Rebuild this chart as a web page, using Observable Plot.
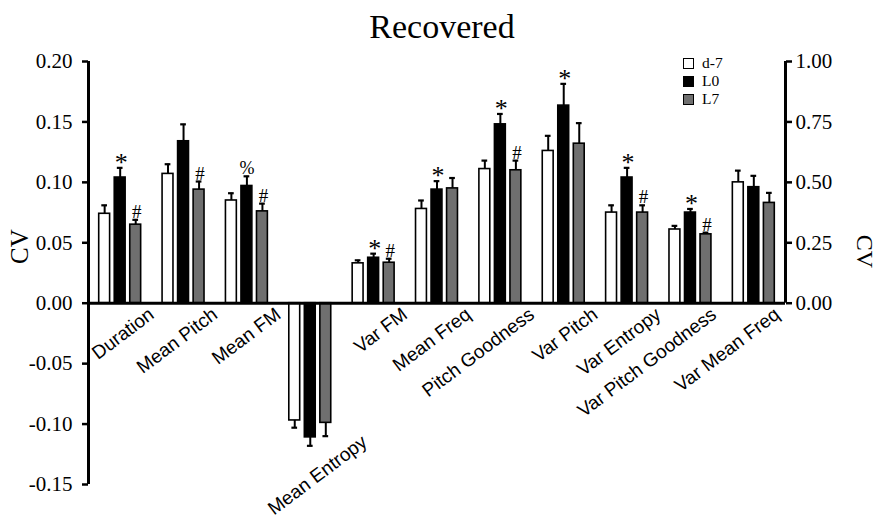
<!DOCTYPE html>
<html><head><meta charset="utf-8">
<script src="https://cdn.jsdelivr.net/npm/d3@7"></script>
<script src="https://cdn.jsdelivr.net/npm/@observablehq/plot@0.6"></script>
<style>
body{margin:0;background:#fff}
#wrap{position:relative;width:880px;height:530px}
#legend{position:absolute;left:683px;top:54px;font-family:"Liberation Serif","Times New Roman",serif;font-size:15.5px;color:#000}
#legend .row{display:flex;align-items:center;height:18px;line-height:18px}
#legend .sw{width:9px;height:9px;border:1.5px solid #000;margin-right:8px;box-sizing:content-box}
</style></head>
<body><div id="wrap"><div id="legend"></div></div>
<script>
const categories = ["Duration","Mean Pitch","Mean FM","Mean Entropy","Var FM","Mean Freq","Pitch Goodness","Var Pitch","Var Entropy","Var Pitch Goodness","Var Mean Freq"];
const series = ["d-7","L0","L7"];
const seriesColors = ["#ffffff","#000000","#6f6f6f"];
const d7    = [0.074, 0.107, 0.085, -0.097, 0.033, 0.078, 0.111, 0.126, 0.075, 0.061, 0.100];
const d7Err = [0.007, 0.008, 0.006, 0.006, 0.0025, 0.007, 0.007, 0.0125, 0.006, 0.003, 0.0097];
const L0    = [0.104, 0.134, 0.097, -0.111, 0.0376, 0.094, 0.148, 0.1635, 0.104, 0.075, 0.096];
const L0Err = [0.008, 0.014, 0.008, 0.007, 0.0034, 0.007, 0.0086, 0.018, 0.008, 0.003, 0.0094];
const L7    = [0.065, 0.094, 0.076, -0.099, 0.0335, 0.095, 0.110, 0.132, 0.075, 0.057, 0.083];
const L7Err = [0.004, 0.0067, 0.0064, 0.011, 0.0033, 0.0086, 0.008, 0.017, 0.006, 0.0014, 0.0083];
const L0Marks = ["*", "", "%", "", "*", "*", "*", "*", "*", "*", ""];
const L7Marks = ["#", "#", "#", "", "#", "", "#", "", "#", "#", ""];
const leftTicks = [-0.15, -0.10, -0.05, 0.00, 0.05, 0.10, 0.15, 0.20];
const leftTickLabels = ["-0.15","-0.10","-0.05","0.00","0.05","0.10","0.15","0.20"];
const rightTicks = [0, 0.25, 0.5, 0.75, 1.0];
const rightTickLabels = ["0.00","0.25","0.50","0.75","1.00"];
const titleText = "Recovered";
const yLabel = "CV";

const values = [d7, L0, L7];
const errors = [d7Err, L0Err, L7Err];
const marksBySeries = [null, L0Marks, L7Marks];
const step = 0.245, bw = 0.172, capHalf = 0.045;
const rows = [];
categories.forEach((c, i) => series.forEach((s, k) => {
  const v = values[k][i], e = errors[k][i];
  rows.push({cat: c, series: s, k, v, top: v + Math.sign(v) * e, cx: i + 0.5 + (k - 1) * step, mark: marksBySeries[k] ? marksBySeries[k][i] : ""});
}));
const yMin = leftTicks[0], yMax = leftTicks[leftTicks.length - 1];
const ratio = yMax / rightTicks[rightTicks.length - 1];

const labFont = 19;
const sans = '"Liberation Sans", Arial, sans-serif';
const labelMarks = categories.map((c, i) => {
  const low = Math.min(0, ...rows.filter(r => r.cat === c).map(r => r.top));
  const neg = low < 0;
  const shift = i >= categories.length - 2 ? -8 : 0;
  return Plot.text([c], {x: () => i + 0.5, y: () => low, text: d => d, rotate: -37, textAnchor: "end", lineAnchor: "top", dx: (neg ? 50 : 27) + shift, dy: neg ? -12 : 3, fontFamily: sans, fontSize: labFont});
});

const serif = '"Liberation Serif", "Times New Roman", serif';
const chart = Plot.plot({
  width: 880, height: 530,
  marginLeft: 88, marginRight: 95, marginTop: 61, marginBottom: 46,
  style: {fontFamily: serif, fontSize: "21px", background: "#fff", color: "#000"},
  x: {domain: [0, categories.length], axis: null},
  y: {domain: [yMin, yMax], axis: null},
  color: {domain: series, range: seriesColors},
  marks: [
    Plot.rect(rows, {x1: d => d.cx - bw / 2, x2: d => d.cx + bw / 2, y1: 0, y2: "v", fill: "series", stroke: "#000", strokeWidth: 1.6}),
    Plot.ruleX(rows, {x: "cx", y1: "v", y2: "top", stroke: "#000", strokeWidth: 2}),
    Plot.ruleY(rows, {y: "top", x1: d => d.cx - capHalf, x2: d => d.cx + capHalf, stroke: "#000", strokeWidth: 2.2}),
    Plot.text(rows.filter(r => r.mark === "*"), {x: "cx", y: "top", text: "mark", fontSize: 26, lineAnchor: "bottom", dy: 3, dx: 1, fill: "#000"}),
    Plot.text(rows.filter(r => r.mark === "#"), {x: "cx", y: "top", text: "mark", fontSize: 19, lineAnchor: "bottom", dy: -2, dx: 1, fill: "#000"}),
    Plot.text(rows.filter(r => r.mark === "%"), {x: "cx", y: "top", text: "mark", fontSize: 18, lineAnchor: "bottom", dy: -2, fill: "#000"}),
    Plot.ruleY([0], {x1: 0, x2: categories.length, stroke: "#000", strokeWidth: 3}),
    Plot.ruleX([0], {y1: yMin, y2: yMax, stroke: "#000", strokeWidth: 3}),
    Plot.ruleX([categories.length], {y1: 0, y2: yMax, stroke: "#000", strokeWidth: 3}),
    Plot.axisY(leftTicks, {anchor: "left", tickSize: 6, tickPadding: 10, strokeWidth: 2.5, tickFormat: d => leftTickLabels[leftTicks.indexOf(d)], label: null, fontSize: 21}),
    Plot.axisY(rightTicks.map(t => t * ratio), {anchor: "right", tickSize: 6, tickPadding: 4, strokeWidth: 2.5, tickFormat: d => rightTickLabels[rightTicks.findIndex(t => Math.abs(t * ratio - d) < 1e-9)], label: null, fontSize: 21}),
    ...labelMarks,
    Plot.text([titleText], {frameAnchor: "top", dy: -24, dx: 5, lineAnchor: "bottom", fontSize: 34}),
    Plot.text([yLabel], {frameAnchor: "left", dx: -69, dy: -9, rotate: -90, fontSize: 25}),
    Plot.text([yLabel], {frameAnchor: "right", dx: 79, dy: -5, rotate: 90, fontSize: 24})
  ]
});
const wrap = document.getElementById("wrap");
wrap.insertBefore(chart, wrap.firstChild);
const leg = document.getElementById("legend");
series.forEach((s, k) => {
  const row = document.createElement("div"); row.className = "row";
  const sw = document.createElement("span"); sw.className = "sw"; sw.style.background = seriesColors[k];
  const t = document.createElement("span"); t.textContent = s;
  row.appendChild(sw); row.appendChild(t); leg.appendChild(row);
});
</script></body></html>
